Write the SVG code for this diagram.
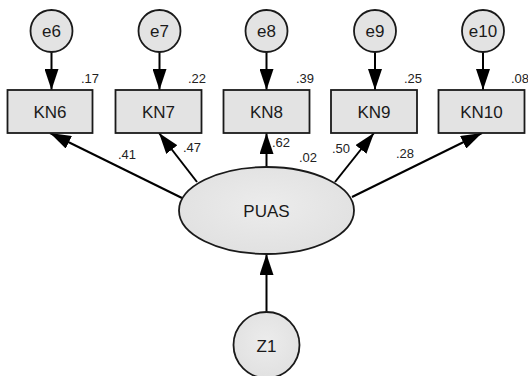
<svg xmlns="http://www.w3.org/2000/svg" width="528" height="376" viewBox="0 0 528 376">
  <style>
    .node { fill: #e3e3e3; stroke: #1a1a1a; stroke-width: 1.8; }
    .lbl { font-family: "Liberation Sans", Arial, sans-serif; font-size: 17px; fill: #1a1a1a; text-anchor: middle; }
    .num { font-family: "Liberation Sans", Arial, sans-serif; font-size: 13px; fill: #222; }
    .edge { stroke: #000; stroke-width: 2; fill: none; marker-end: url(#arrow); }
  </style>
  <defs>
    <marker id="arrow" markerUnits="userSpaceOnUse" markerWidth="22" markerHeight="14" viewBox="0 0 22 14" refX="21" refY="7" orient="auto">
      <path d="M0,0 L21,7 L0,14 Z" fill="#000"/>
    </marker>
    <radialGradient id="shade" cx="0.5" cy="0.45" r="0.7">
      <stop offset="0" stop-color="#ececec"/>
      <stop offset="1" stop-color="#dedede"/>
    </radialGradient>
  </defs>

  <!-- paths: errors to indicators, factor to indicators, disturbance to factor -->
  <g id="connectors">
    <line class="edge" x1="51.5" y1="52" x2="51.5" y2="90"/>
    <line class="edge" x1="159.5" y1="52" x2="159.5" y2="90"/>
    <line class="edge" x1="266.5" y1="52" x2="266.5" y2="90"/>
    <line class="edge" x1="375" y1="52" x2="375" y2="90"/>
    <line class="edge" x1="483" y1="52" x2="483" y2="90"/>

    <line class="edge" x1="182" y1="198" x2="50" y2="133"/>
    <line class="edge" x1="197" y1="182" x2="159" y2="133"/>
    <line class="edge" x1="266.5" y1="167" x2="266.5" y2="133"/>
    <line class="edge" x1="335" y1="182" x2="374" y2="133"/>
    <line class="edge" x1="352" y1="197" x2="482" y2="133"/>

    <line class="edge" x1="266.5" y1="312" x2="266.5" y2="254"/>
  </g>

  <!-- error terms -->
  <g id="e6"><circle class="node" cx="51.5" cy="31" r="21"/><text class="lbl" x="51.5" y="37">e6</text></g>
  <g id="e7"><circle class="node" cx="159.5" cy="31" r="21"/><text class="lbl" x="159.5" y="37">e7</text></g>
  <g id="e8"><circle class="node" cx="266.5" cy="31" r="21"/><text class="lbl" x="266.5" y="37">e8</text></g>
  <g id="e9"><circle class="node" cx="375" cy="31" r="21"/><text class="lbl" x="375" y="37">e9</text></g>
  <g id="e10"><circle class="node" cx="483" cy="31" r="21"/><text class="lbl" x="483" y="37">e10</text></g>

  <!-- observed indicators -->
  <g id="KN6"><rect class="node" x="7.5" y="90" width="85" height="43"/><text class="lbl" x="50" y="118">KN6</text></g>
  <g id="KN7"><rect class="node" x="115.5" y="90" width="86" height="43"/><text class="lbl" x="158.5" y="118">KN7</text></g>
  <g id="KN8"><rect class="node" x="223.5" y="90" width="86" height="43"/><text class="lbl" x="266.5" y="118">KN8</text></g>
  <g id="KN9"><rect class="node" x="331" y="90" width="86" height="43"/><text class="lbl" x="374" y="118">KN9</text></g>
  <g id="KN10"><rect class="node" x="438.5" y="90" width="86" height="43"/><text class="lbl" x="481.5" y="118">KN10</text></g>

  <!-- latent factor and its disturbance -->
  <g id="PUAS"><ellipse cx="266.5" cy="210.5" rx="87.5" ry="43.5" fill="url(#shade)" stroke="#1a1a1a" stroke-width="1.8"/><text class="lbl" x="266.5" y="217">PUAS</text></g>
  <g id="Z1"><circle cx="266.5" cy="345" r="33" fill="url(#shade)" stroke="#1a1a1a" stroke-width="1.8"/><text class="lbl" x="266.5" y="352">Z1</text></g>

  <!-- squared multiple correlations -->
  <g id="r2">
    <text class="num" x="81" y="83">.17</text>
    <text class="num" x="188" y="83">.22</text>
    <text class="num" x="296" y="83">.39</text>
    <text class="num" x="404" y="83">.25</text>
    <text class="num" x="511" y="83">.08</text>
    <text class="num" x="299" y="162">.02</text>
  </g>

  <!-- standardized loadings -->
  <g id="loadings">
    <text class="num" x="118" y="159">.41</text>
    <text class="num" x="183" y="152">.47</text>
    <text class="num" x="272" y="147">.62</text>
    <text class="num" x="332" y="153">.50</text>
    <text class="num" x="396" y="158">.28</text>
  </g>
</svg>
